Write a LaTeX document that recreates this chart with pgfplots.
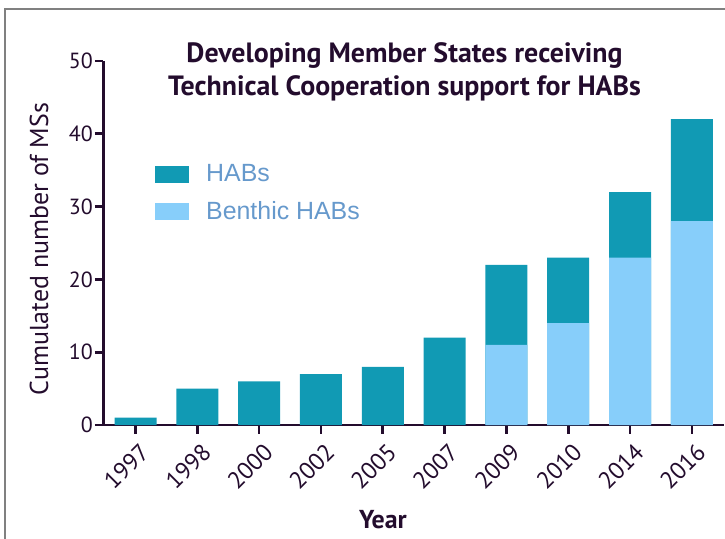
\documentclass[border=0pt]{standalone}
\usepackage{fontspec}
\setmainfont{PT Sans}
\newfontfamily\arialfont{Liberation Sans}
\usepackage{pgfplots}
\pgfplotsset{compat=1.18}
\definecolor{habs}{RGB}{17,154,180}
\definecolor{benthic}{RGB}{135,206,250}
\definecolor{ink}{RGB}{35,12,45}
\definecolor{legtext}{RGB}{102,153,204}
\begin{document}
\begin{tikzpicture}
\path[use as bounding box] (-103.5bp,-114bp) rectangle (621.5bp,425bp);
\draw[gray, line width=1.5bp] (-98.5bp,-114bp) -- (-98.5bp,416bp) -- (621.5bp,416bp);
\begin{axis}[
  at={(0,0)}, anchor=south west,
  scale only axis, width=620.5bp, height=364bp,
  xmin=-0.518, xmax=9.52, ymin=0, ymax=50,
  axis x line*=bottom, axis y line*=left,
  axis line style={line width=2.6bp, draw=ink, -},
  every tick/.style={line width=2.6bp, draw=ink},
  tick align=outside, major tick length=8.5bp,
  xtick={0,...,9},
  xticklabels={1997,1998,2000,2002,2005,2007,2009,2010,2014,2016},
  ytick={0,10,...,50},
  tick label style={font=\fontsize{22}{24}\selectfont, text=ink},
  /pgf/number format/assume math mode=true,
  xticklabel style={rotate=45, anchor=north east, inner xsep=3.5bp, inner ysep=8bp, font=\fontsize{24}{26}\selectfont},
  yticklabel style={inner sep=2bp},
  xlabel={Year},
  xlabel style={at={(axis description cs:0.4504,-0.261)}, anchor=center, font=\bfseries\fontsize{26}{28}\selectfont, text=ink},
  ylabel={Cumulated number of MSs},
  ylabel style={at={(axis description cs:-0.104,0.4835)}, anchor=center, rotate=0, font=\fontsize{26}{28}\selectfont, text=ink},
  ybar, bar width=42bp, bar shift=0pt,
  legend image code/.code={\fill[#1] (0bp,-8.5bp) rectangle (34bp,8.5bp);},
  legend style={draw=none, fill=none, at={(axis description cs:0.083,0.721)}, anchor=north west, inner sep=0pt, row sep=14bp, font=\arialfont\fontsize{25}{28}\selectfont, text=legtext, legend cell align=left, /tikz/every odd column/.append style={column sep=15bp}},
]
\addplot[fill=habs, draw=none] coordinates {(0,1) (1,5) (2,6) (3,7) (4,8) (5,12) (6,22) (7,23) (8,32) (9,42)};
\addlegendentry{HABs}
\addplot[fill=benthic, draw=none] coordinates {(6,11) (7,14) (8,23) (9,28)};
\addlegendentry{Benthic HABs}
\end{axis}
\node[font=\bfseries\fontsize{28}{33}\selectfont, text=ink, align=center] at (301bp,353.5bp) {Developing Member States receiving\\Technical Cooperation support for HABs};
\end{tikzpicture}
\end{document}
